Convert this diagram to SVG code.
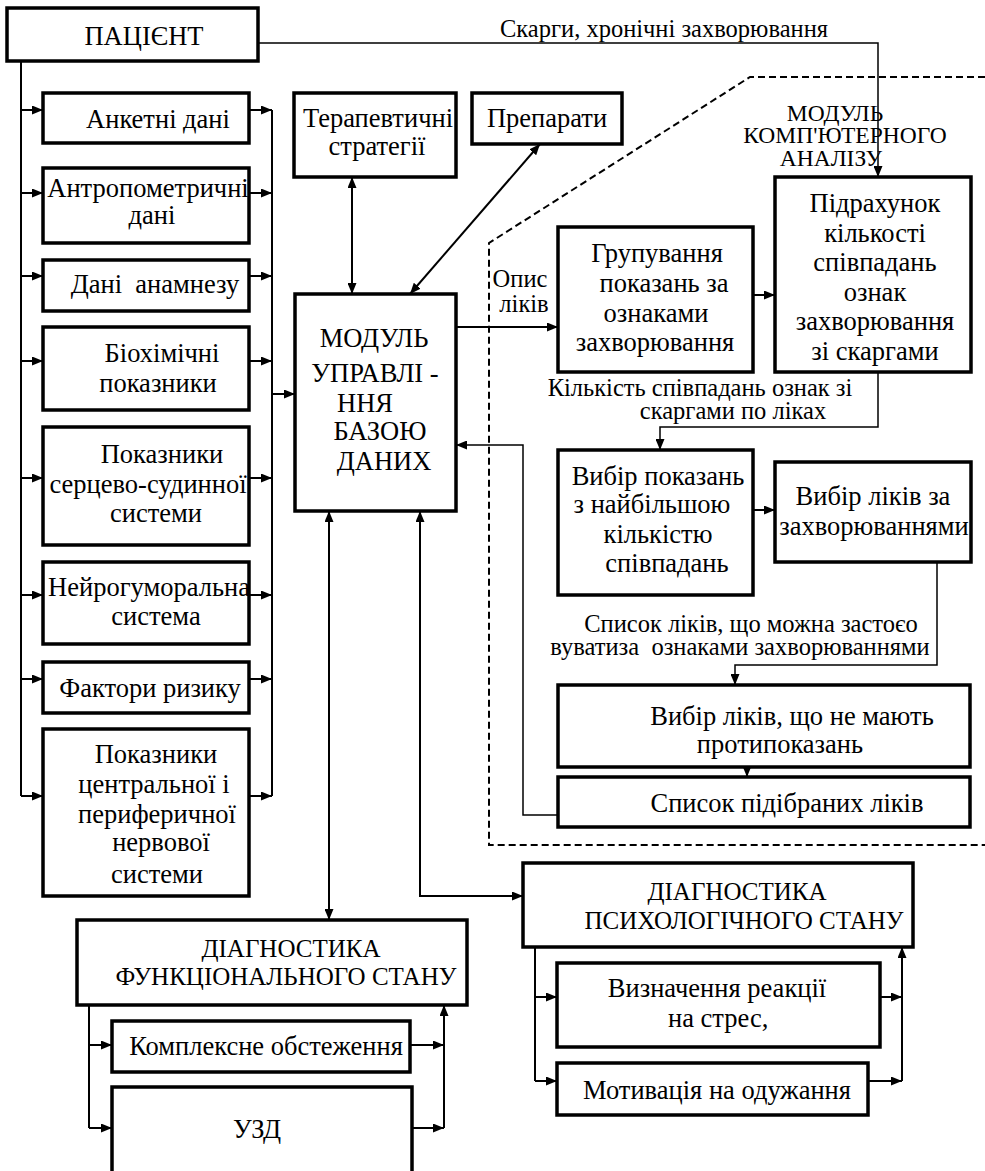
<svg xmlns="http://www.w3.org/2000/svg" width="985" height="1171" viewBox="0 0 985 1171">
<defs>
<marker id="ah" viewBox="0 0 11 9" refX="11" refY="4.5" markerWidth="11" markerHeight="9" markerUnits="userSpaceOnUse" orient="auto-start-reverse"><path d="M0,0 L11,4.5 L0,9 z" fill="#000"/></marker>
<style>
.box{fill:#fff;stroke:#000;stroke-width:3.5}
.c{fill:none;stroke:#000;stroke-width:2}
.ct{fill:none;stroke:#000;stroke-width:1.5}
.a{marker-end:url(#ah)}
.b{marker-start:url(#ah);marker-end:url(#ah)}
.t{font-size:26.5px;text-anchor:middle}
.s{font-size:25px;text-anchor:middle}
.m{font-size:23.5px;text-anchor:middle}
.l{font-size:24.5px;text-anchor:middle}
.dash{fill:none;stroke:#000;stroke-width:2;stroke-dasharray:7 4}
</style>
</defs>
<rect width="985" height="1171" fill="#fff"/>
<g font-family="'Liberation Serif', 'DejaVu Serif', serif" fill="#000">
<g id="module-boundary">
<path class="dash" d="M985,77 L750,77 L489,243 L489,845 L985,845"/>
<text class="m" x="835" y="121">МОДУЛЬ</text>
<text class="m" x="845" y="143">КОМП'ЮТЕРНОГО</text>
<text class="m" x="831" y="166">АНАЛІЗУ</text>
</g>

<g id="connectors">
<path class="ct a" d="M258,43 L878,43 L878,177"/>
<path class="c" d="M21,61 L21,796"/>
<path class="c a" d="M21,110 L43,110"/>
<path class="c a" d="M21,193 L43,193"/>
<path class="c a" d="M21,276 L43,276"/>
<path class="c a" d="M21,361 L43,361"/>
<path class="c a" d="M21,478 L43,478"/>
<path class="c a" d="M21,595 L43,595"/>
<path class="c a" d="M21,679 L43,679"/>
<path class="c a" d="M21,796 L43,796"/>
<path class="c" d="M272,110 L272,796"/>
<path class="c a" d="M249,110 L272,110"/>
<path class="c a" d="M249,193 L272,193"/>
<path class="c a" d="M249,276 L272,276"/>
<path class="c a" d="M249,361 L272,361"/>
<path class="c a" d="M249,478 L272,478"/>
<path class="c a" d="M249,595 L272,595"/>
<path class="c a" d="M249,679 L272,679"/>
<path class="c a" d="M249,796 L272,796"/>
<path class="c a" d="M272,394 L295,394"/>
<path class="c b" d="M352,177 L352,294"/>
<path class="c b" d="M540,144 L410,294"/>
<path class="c a" d="M456,327 L558,327"/>
<path class="c a" d="M753,295 L775,295"/>
<path class="ct a" d="M878,372 L878,427 L660,427 L660,450"/>
<path class="c a" d="M753,510 L775,510"/>
<path class="ct a" d="M937,562 L937,665 L735,665 L735,685"/>
<path class="c a" d="M747,767 L747,777"/>
<path class="ct a" d="M558,815 L523,815 L523,445 L456,445"/>
<path class="c b" d="M329,511 L329,920"/>
<path class="c b" d="M420,511 L420,896 L523,896"/>
<path class="c" d="M89,1005 L89,1128"/>
<path class="c a" d="M89,1045 L112,1045"/>
<path class="c a" d="M89,1128 L112,1128"/>
<path class="c a" d="M410,1045 L444,1045"/>
<path class="c a" d="M412,1128 L444,1128"/>
<path class="c a" d="M444,1128 L444,1005"/>
<path class="c" d="M535,947 L535,1081"/>
<path class="c a" d="M535,997 L557,997"/>
<path class="c a" d="M535,1081 L557,1081"/>
<path class="c a" d="M880,997 L902,997"/>
<path class="c a" d="M868,1081 L902,1081"/>
<path class="c a" d="M902,1081 L902,947"/>
</g>

<g id="labels">
<text class="l" x="664" y="37">Скарги, хронічні захворювання</text>
<text class="l" x="520" y="287">Опис</text>
<text class="l" x="524" y="312">ліків</text>
<text class="l" x="700" y="396">Кількість співпадань ознак зі</text>
<text class="l" x="733" y="419">скаргами по ліках</text>
<text class="l" x="751" y="632">Список ліків, що можна застоєо</text>
<text class="l" x="740" y="655" xml:space="preserve">вуватиза  ознаками захворюваннями</text>
</g>

<g id="patient"><rect class="box" x="7" y="8" width="251" height="53"/><text class="t" x="144" y="45">ПАЦІЄНТ</text></g>
<g id="anketni"><rect class="box" x="43" y="93" width="206" height="50"/><text class="t" x="158" y="128">Анкетні дані</text></g>
<g id="antropometrychni"><rect class="box" x="43" y="168" width="206" height="75"/><text class="t" x="148" y="197">Антропометричні</text><text class="t" x="152" y="224">дані</text></g>
<g id="anamnez"><rect class="box" x="43" y="260" width="206" height="51"/><text class="t" x="155" y="293" xml:space="preserve">Дані  анамнезу</text></g>
<g id="biochem"><rect class="box" x="43" y="327" width="206" height="83"/><text class="t" x="162" y="362">Біохімічні</text><text class="t" x="158" y="392">показники</text></g>
<g id="cardio"><rect class="box" x="43" y="427" width="206" height="118"/><text class="t" x="162" y="463">Показники</text><text class="t" x="148" y="493">серцево-судинної</text><text class="t" x="156" y="522">системи</text></g>
<g id="neuro"><rect class="box" x="43" y="562" width="206" height="82"/><text class="t" x="149" y="596">Нейрогуморальна</text><text class="t" x="156" y="625">система</text></g>
<g id="risk"><rect class="box" x="43" y="662" width="206" height="51"/><text class="t" x="150" y="697">Фактори ризику</text></g>
<g id="cns"><rect class="box" x="43" y="729" width="206" height="167"/><text class="t" x="156" y="763">Показники</text><text class="t" x="154" y="793">центральної і</text><text class="t" x="157" y="823">периферичної</text><text class="t" x="161" y="851">нервової</text><text class="t" x="157" y="883">системи</text></g>

<g id="therapy"><rect class="box" x="294" y="93" width="162" height="84"/><text class="t" x="378" y="127">Терапевтичні</text><text class="t" x="377" y="155">стратегії</text></g>
<g id="drugs"><rect class="box" x="472" y="93" width="150" height="51"/><text class="t" x="547" y="127">Препарати</text></g>
<g id="db-module"><rect class="box" x="295" y="294" width="161" height="217"/>
<text class="t" x="374" y="347">МОДУЛЬ</text><text class="t" x="375" y="382">УПРАВЛІ -</text><text class="t" x="365" y="412">ННЯ</text><text class="t" x="380" y="440">БАЗОЮ</text><text class="t" x="384" y="470">ДАНИХ</text></g>

<g id="grouping"><rect class="box" x="558" y="227" width="195" height="145"/><text class="t" x="657" y="262">Групування</text><text class="t" x="664" y="292">показань за</text><text class="t" x="656" y="322">ознаками</text><text class="t" x="655" y="351">захворювання</text></g>
<g id="counting"><rect class="box" x="775" y="177" width="196" height="195"/><text class="t" x="875" y="212">Підрахунок</text><text class="t" x="875" y="242">кількості</text><text class="t" x="875" y="271">співпадань</text><text class="t" x="875" y="301">ознак</text><text class="t" x="875" y="330">захворювання</text><text class="t" x="875" y="360">зі скаргами</text></g>
<g id="select-indications"><rect class="box" x="558" y="450" width="195" height="145"/><text class="t" x="658" y="485">Вибір показань</text><text class="t" x="652" y="513">з найбільшою</text><text class="t" x="658" y="543">кількістю</text><text class="t" x="667" y="572">співпадань</text></g>
<g id="select-drugs"><rect class="box" x="775" y="462" width="196" height="100"/><text class="t" x="873" y="505">Вибір ліків за</text><text class="t" x="874" y="535">захворюваннями</text></g>
<g id="no-contra"><rect class="box" x="558" y="685" width="412" height="82"/><text class="t" x="792" y="725">Вибір ліків, що не мають</text><text class="t" x="780" y="753">протипоказань</text></g>
<g id="drug-list"><rect class="box" x="558" y="777" width="412" height="50"/><text class="t" x="787" y="812">Список підібраних ліків</text></g>

<g id="func-diag"><rect class="box" x="77" y="920" width="390" height="85"/><text class="s" x="291" y="957">ДІАГНОСТИКА</text><text class="s" x="286" y="985">ФУНКЦІОНАЛЬНОГО СТАНУ</text></g>
<g id="complex"><rect class="box" x="112" y="1021" width="298" height="51"/><text class="t" x="266" y="1055">Комплексне обстеження</text></g>
<g id="uzd"><rect class="box" x="112" y="1087" width="300" height="110"/><text class="t" x="257" y="1138">УЗД</text></g>

<g id="psych-diag"><rect class="box" x="523" y="863" width="390" height="84"/><text class="s" x="737" y="900">ДІАГНОСТИКА</text><text class="s" x="744" y="929">ПСИХОЛОГІЧНОГО СТАНУ</text></g>
<g id="stress"><rect class="box" x="557" y="963" width="323" height="84"/><text class="t" x="717" y="997">Визначення реакції</text><text class="t" x="668" y="1027" style="text-anchor:start">на стрес,</text></g>
<g id="motivation"><rect class="box" x="557" y="1063" width="311" height="52"/><text class="t" x="717" y="1099">Мотивація на одужання</text></g>
</g>
</svg>
